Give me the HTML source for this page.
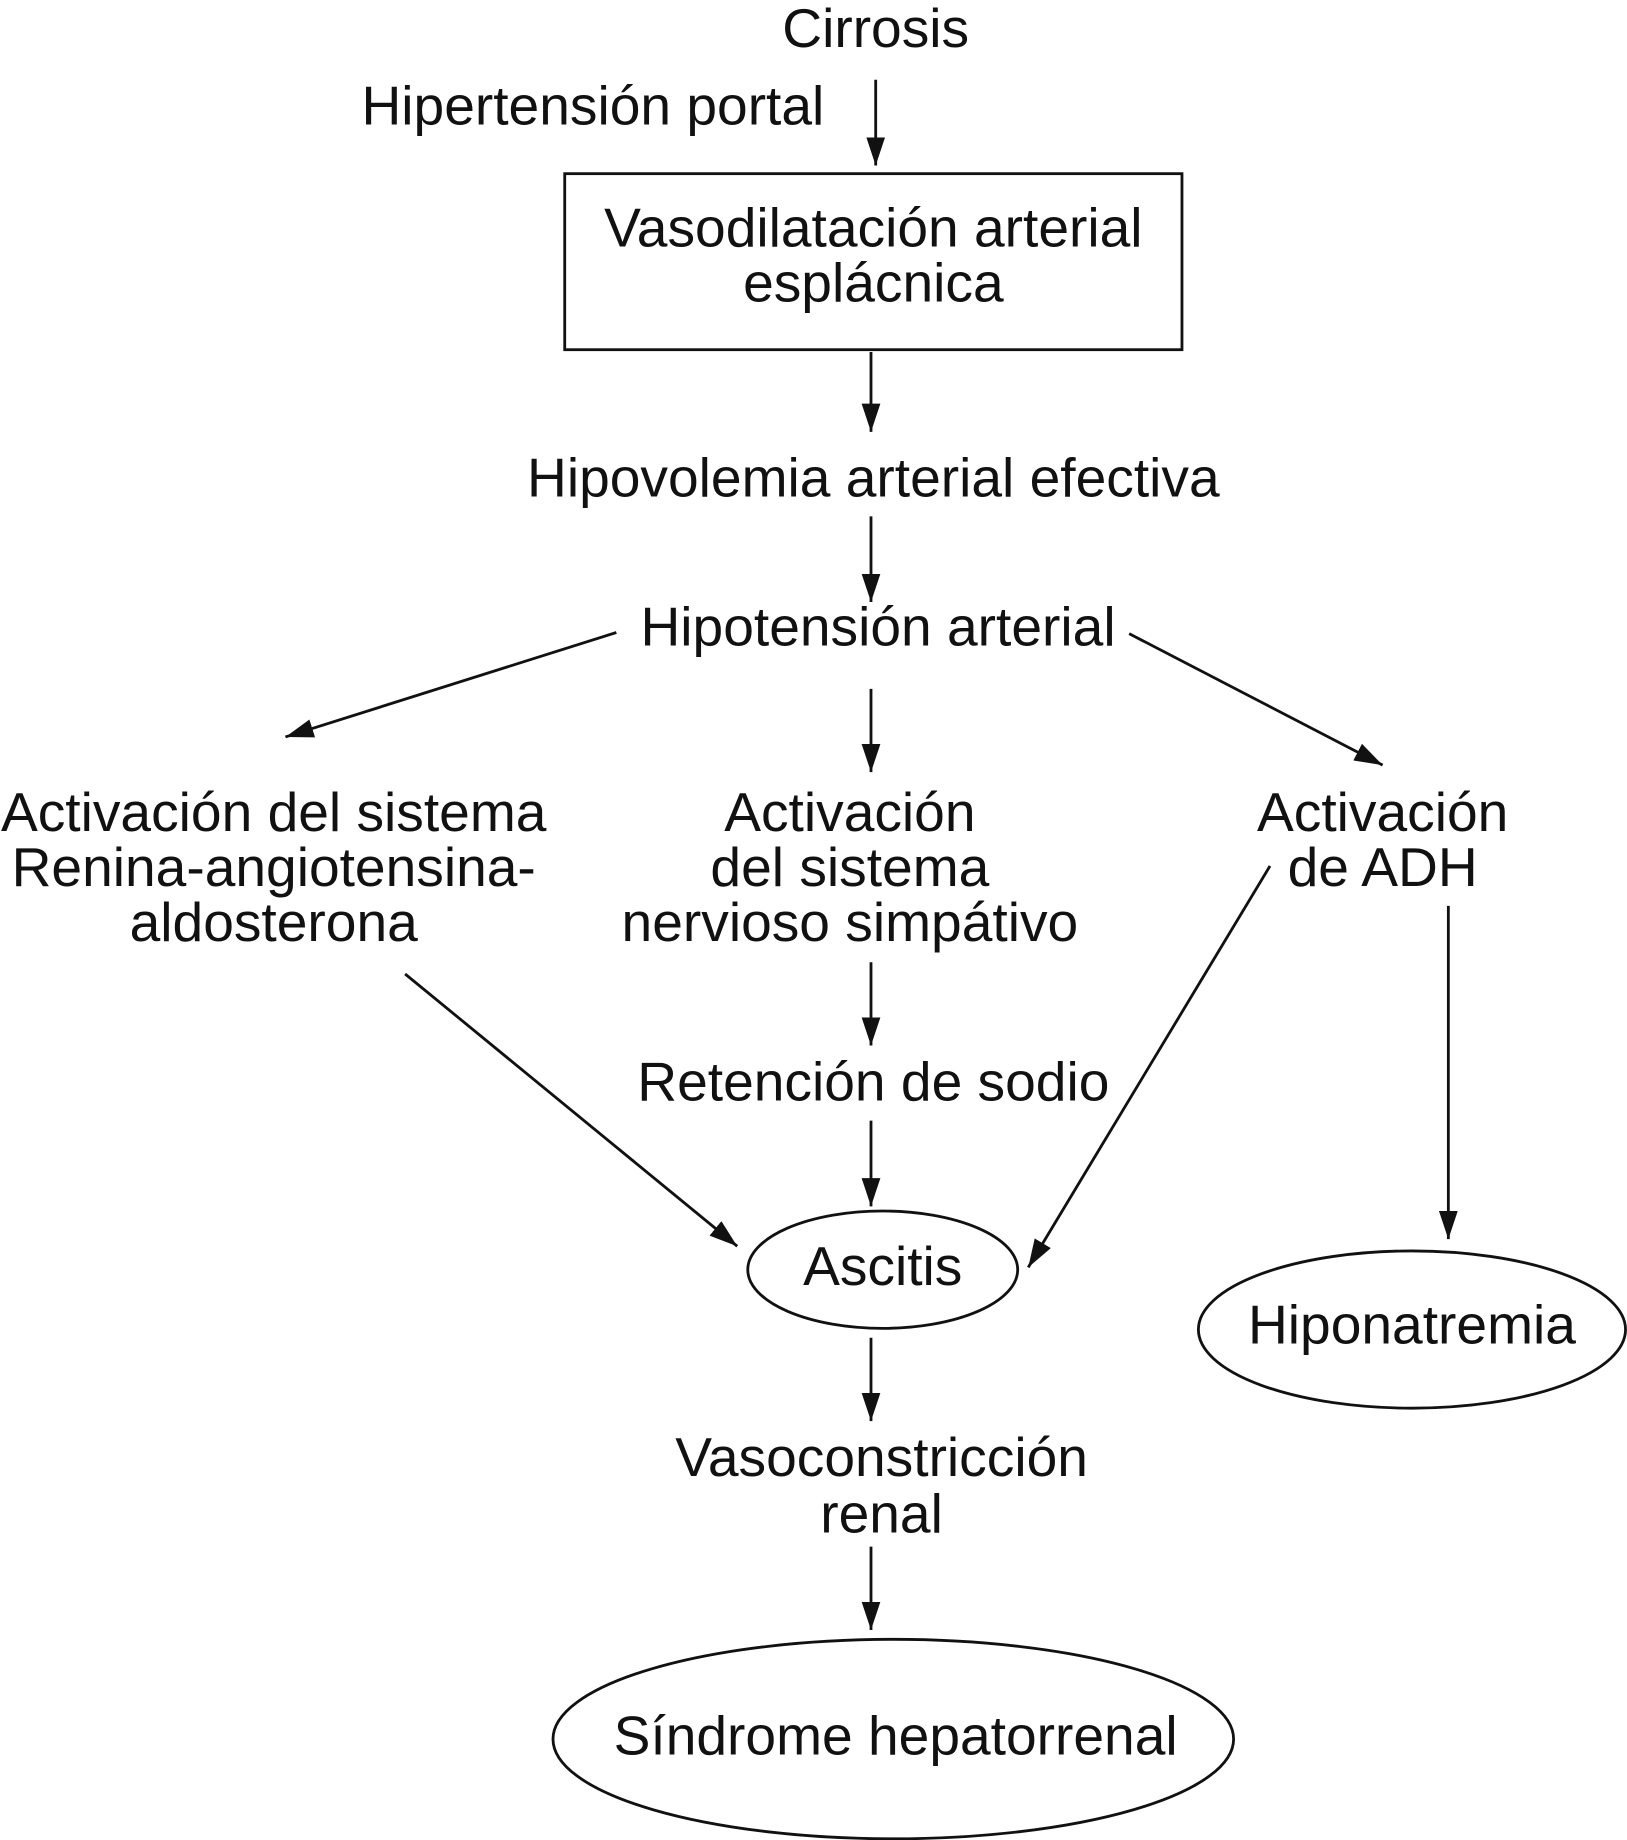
<!DOCTYPE html>
<html><head><meta charset="utf-8"><style>
html,body{margin:0;padding:0;background:#fff;}
svg{display:block;}
text{font-family:"Liberation Sans",Arial,sans-serif;font-size:47px;fill:#111;text-anchor:middle;}
</style></head><body>
<svg width="1627" height="1840" viewBox="0 0 1386 1568" xmlns="http://www.w3.org/2000/svg">
<defs>
<marker id="a" viewBox="0 0 24 16" refX="24" refY="8" markerWidth="24" markerHeight="16" markerUnits="userSpaceOnUse" orient="auto">
<path d="M0,0 L24,8 L0,16 Z" fill="#111"/>
</marker>
</defs>
<g stroke="#111" stroke-width="2.4" fill="none">
<line x1="746" y1="68" x2="746" y2="141" marker-end="url(#a)"/>
<rect x="481" y="148" width="526" height="150"/>
<line x1="742" y1="300" x2="742" y2="368" marker-end="url(#a)"/>
<line x1="742" y1="440" x2="742" y2="513" marker-end="url(#a)"/>
<line x1="525" y1="539" x2="243" y2="628" marker-end="url(#a)"/>
<line x1="962" y1="540" x2="1178" y2="652" marker-end="url(#a)"/>
<line x1="742" y1="587" x2="742" y2="658" marker-end="url(#a)"/>
<line x1="742" y1="820" x2="742" y2="891" marker-end="url(#a)"/>
<line x1="742" y1="955" x2="742" y2="1028" marker-end="url(#a)"/>
<line x1="345" y1="830" x2="628" y2="1062" marker-end="url(#a)"/>
<line x1="1082" y1="738" x2="876" y2="1080" marker-end="url(#a)"/>
<line x1="1234" y1="772" x2="1234" y2="1056" marker-end="url(#a)"/>
<ellipse cx="752" cy="1082" rx="115" ry="50"/>
<ellipse cx="1203" cy="1133" rx="182" ry="67"/>
<line x1="742" y1="1140" x2="742" y2="1211" marker-end="url(#a)"/>
<line x1="742" y1="1318" x2="742" y2="1389" marker-end="url(#a)"/>
<ellipse cx="761" cy="1482" rx="290" ry="85"/>
</g>
<text x="746" y="40">Cirrosis</text>
<text x="505" y="106">Hipertensión portal</text>
<text x="744" y="210">Vasodilatación arterial</text>
<text x="744" y="257">esplácnica</text>
<text x="744" y="423">Hipovolemia arterial efectiva</text>
<text x="748" y="550">Hipotensión arterial</text>
<text x="233" y="708">Activación del sistema</text>
<text x="233" y="755">Renina-angiotensina-</text>
<text x="233" y="802">aldosterona</text>
<text x="724" y="708">Activación</text>
<text x="724" y="755">del sistema</text>
<text x="724" y="802">nervioso simpátivo</text>
<text x="1178" y="708">Activación</text>
<text x="1178" y="755">de ADH</text>
<text x="744" y="938">Retención de sodio</text>
<text x="752" y="1095">Ascitis</text>
<text x="1203" y="1145">Hiponatremia</text>
<text x="751" y="1258">Vasoconstricción</text>
<text x="751" y="1306">renal</text>
<text x="763" y="1495">Síndrome hepatorrenal</text>
</svg>
</body></html>
